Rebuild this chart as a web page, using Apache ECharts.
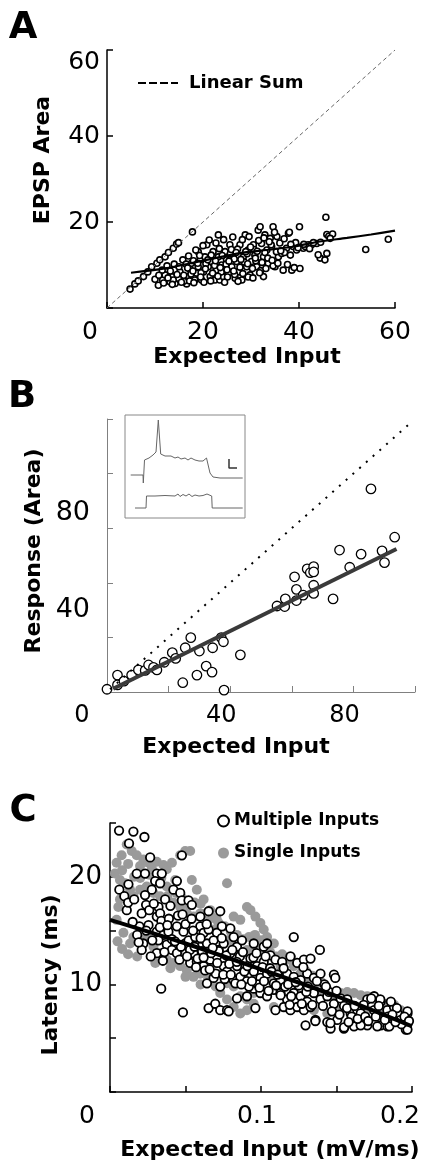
<!DOCTYPE html>
<html><head><meta charset="utf-8">
<script src="https://cdn.jsdelivr.net/npm/echarts@6/dist/echarts.min.js"></script>
<style>html,body{margin:0;padding:0;background:#fff}#c{width:427px;height:1165px}</style>
</head><body><div id="c"></div>
<script>
// ---------- Panel A data ----------
const aXLabels = [0, 20, 40, 60];
const aYLabels = [20, 40, 60];
const aLinearSum = [[0, 0], [60, 60]];
const aFit = [[5, 8.2], [12, 9.2], [20, 11], [28, 12.8], [34, 13.6], [39, 14.3], [44, 15.4], [50, 16.3], [55, 17.1], [60, 18.0]];
const aPoints = [
 [4.8,4.4],[5.8,5.6],[6.5,6.3],[7.6,7.3],[8.5,8.4],[9.3,9.6],[10.4,10.4],[11,11.2],[12.1,11.9],[12.8,12.9],[13.8,13.9],[14.5,14.9],[14.9,15.2],[17.8,17.7],
 [10.0,6.7],[10.7,5.3],[11.6,6.5],[12.1,7.7],[13.1,6.1],[13.5,7.3],[14.2,5.7],[14.9,6.9],[15.2,8.4],[16.3,6.7],[16.6,5.6],[16.9,7.3],[17.3,9.0],[17.6,10.4],
 [18.3,6.5],[18.7,8.1],[19.0,9.6],[19.0,13.1],[19.4,11.2],[19.7,6.5],[20.1,8.4],[20.4,11.9],[20.8,14.7],[21.1,9.6],[21.5,7.3],[21.8,10.8],[22.1,13.1],
 [22.5,6.5],[22.8,8.8],[23.2,17.0],[23.2,11.9],[23.5,6.5],[23.9,10.0],[24.2,7.3],[24.6,13.1],[24.9,11.2],[25.3,8.1],[25.6,14.7],[26.0,9.6],[26.3,12.3],
 [26.7,6.9],[27.0,10.8],[27.4,8.4],[27.7,14.7],[28.1,6.5],[28.4,11.9],[28.8,17.0],[29.1,9.6],[29.4,13.5],[29.8,7.7],[30.1,10.8],[30.5,14.7],[30.8,12.3],
 [31.2,9.6],[31.5,18.1],[31.9,18.9],[32.2,15.0],[32.6,11.9],[32.6,7.3],[32.9,17.0],[33.3,13.5],[33.6,10.4],[34.0,16.2],[34.3,14.3],[34.6,18.9],[35.0,9.6],
 [35.4,16.6],[35.7,11.9],[36.4,12.7],[36.7,8.8],[37.4,13.9],[37.8,17.4],[38.5,8.8],[38.8,14.3],[39.5,13.5],[40.1,18.9],[40.2,9.2],[40.6,14.3],[40.9,13.9],
 [41.3,14.3],[41.9,14.7],[42.6,14.7],[43.7,15.0],[44.4,11.6],[45.4,11.2],[45.6,21.1],[45.8,17.1],[45.8,12.7],[46.2,16.7],[53.9,13.6],[58.6,16.0],[38.0,17.6],[34.6,9.8],
 [11.5,8.8],[12.5,9.8],[13.2,8.6],[14,10.2],[15,9.6],[15.8,11.2],[16.5,10.2],[17,12.1],[17.5,7.9],[18,11],[18.5,13.5],[19.3,12.2],[20,14.5],[20.6,10.3],
 [21.3,15.8],[21.7,12.3],[22.4,9.9],[22.7,15.1],[23.4,13.8],[23.8,8.4],[24.3,15.9],[24.8,10.2],[25.1,7.2],[25.7,12.6],[26.2,16.5],[26.5,11.4],[27.2,13.7],
 [27.7,9.5],[28.2,15.9],[28.6,10.7],[29.2,12.6],[29.6,16.6],[30.3,9.2],[30.6,13.6],[31,11],[31.6,15.7],[32,8.7],[32.9,12.9],[33.5,11.6],[34.2,14.7],
 [35.3,13.1],[36,15.1],[37,12.9],[38.2,12.3],[39.3,15.2],[42.2,13.8],[44.5,15.3],[47,17.2],[19.6,8.2],[16,6.2],[13.8,6.5],[26.6,7.8],[29.4,7.2],
 [10.8,7.6],[11.8,5.8],[12.7,7.0],[13.6,5.5],[14.6,7.8],[15.5,6.0],[16,7.6],[16.8,9.3],[17.2,6.3],[17.9,8.6],[18.1,5.9],[18.9,10.4],[19.5,7.2],[20.2,6.0],
 [20.5,9.1],[21,11.2],[21.6,6.3],[22,8.1],[22.6,11.0],[23.1,7.4],[23.6,9.4],[24,12.2],[24.5,6.0],[25,8.9],[25.4,10.9],[25.9,13.6],[26.4,8.6],[26.9,12.9],
 [27.3,6.2],[27.9,11.3],[28.3,8.0],[28.9,13.1],[29.3,10.3],[29.9,14.2],[30.4,7.0],[30.9,11.6],[31.3,13.2],[31.8,8.2],[32.3,10.6],[32.7,16.3],[33.1,9.2],
 [33.8,15.4],[34.4,11.1],[34.9,17.6],[35.6,10.4],[36.2,13.3],[36.9,16.1],[37.6,10.1],[38.3,14.8],[39,9.4],[39.8,14.0],[41,14.8],[43,15.2],[44,12.4],[46.5,16.2]
];

// ---------- Panel B data ----------
const bXLabels = [0, 40, 80];
const bYLabels = [40, 80];
const bLinearSum = [[1, 1], [98, 98]];
const bFit = [[2, 1.2], [94, 52.4]];
const bPoints = [
 [0,1],[3.4,6.2],[3.4,2.6],[5.5,4.0],[8.0,6.2],[10.2,8.1],[12.4,7.9],[13.5,9.9],[15.1,9.0],[16.2,8.1],[18.6,10.9],[21.2,14.4],[22.3,12.3],[24.6,3.4],
 [25.4,16.2],[27.2,19.9],[29.2,6.2],[30.0,15.0],[32.2,9.5],[34.1,7.3],[34.3,16.2],[37.1,19.9],[37.8,18.4],[38.0,0.7],[43.3,13.6],[55.2,31.5],[57.7,31.3],
 [57.9,34.1],[60.9,42.2],[61.5,37.6],[61.5,33.5],[63.7,35.5],[65.0,45.1],[66.0,43.7],[67.1,45.9],[67.1,44.0],[67.1,39.1],[67.1,36.1],[73.4,34.1],[75.5,52.0],
 [78.8,45.7],[82.5,50.5],[85.7,74.4],[89.3,51.7],[90.1,47.4],[93.4,56.7]
];
// inset traces (time, voltage in arbitrary units)
const insetTop = [[5.7,43],[18,43],[18.3,35],[19.5,58],[24,60],[28,63],[31,66],[33.3,98],[35.7,64],[40,62],[46,62],[50,60],[53,61],[56,59],[60,60],[63,58],[66,60],[70,58],[74,57],[78,57],[81.5,60],[83,58],[85,45],[88,41],[95,40],[117.7,40]];
const insetBottom = [[10,10],[21,10],[21.5,22],[30,22],[40,22.5],[50,22],[53,24],[55,21.5],[58,23.5],[61,22],[64,24],[67,21.5],[70,23],[74,22],[78,22.5],[82,24],[84,22],[86.7,22],[87.2,10],[117.7,10]];
const insetScale = [[104,59],[104,50],[112,50]];

// ---------- Panel C data ----------
const cXLabels = [0, 0.1, 0.2];
const cYLabels = [10, 20];
const cFit = [[0,16.0],[0.05,13.8],[0.1,11.4],[0.15,8.9],[0.2,6.1]];
const cMultiple = [
 [0.006,24.3],[0.0155,24.2],[0.0228,23.7],[0.0126,23.1],[0.0266,21.8],[0.0476,22.0],[0.0177,20.3],[0.0232,20.3],[0.0062,18.8],[0.0095,18.2],[0.0122,19.3],
 [0.0111,16.9],[0.031,20.3],[0.0343,20.3],[0.0299,19.6],[0.0332,19.4],[0.0277,18.8],[0.0232,18.3],[0.0239,17.4],[0.021,16.6],[0.0195,15.4],[0.0221,13.8],
 [0.021,13.2],[0.0255,15.5],[0.0321,17.2],[0.031,16.3],[0.0332,16.6],[0.0365,17.9],[0.042,18.8],[0.0443,19.6],[0.0465,18.5],[0.0476,17.8],[0.052,17.8],
 [0.0542,17.4],[0.031,14.9],[0.0354,14.6],[0.0387,14.9],[0.0443,15.4],[0.0487,14.9],[0.031,12.9],[0.0321,14.1],[0.0376,13.7],[0.041,13.2],[0.0443,12.9],
 [0.0498,13.8],[0.052,14.1],[0.0564,14.4],[0.0598,16.3],[0.0653,16.8],[0.073,16.8],[0.0598,15.4],[0.062,14.8],[0.0653,15.1],[0.0708,14.8],[0.0741,15.4],
 [0.0797,15.2],[0.0819,14.4],[0.0553,12.9],[0.0598,13.5],[0.0642,13.8],[0.0686,14.1],[0.0719,13.2],[0.0753,13.8],[0.0797,12.9],[0.0841,13.5],[0.0874,14.1],
 [0.0952,13.8],[0.1018,13.5],[0.104,13.8],[0.0531,12.0],[0.0575,12.1],[0.062,11.7],[0.0664,12.3],[0.0708,12.6],[0.0753,11.7],[0.0797,12.1],[0.0841,11.7],
 [0.0885,12.3],[0.093,12.4],[0.0974,11.7],[0.1018,12.1],[0.1062,12.7],[0.1096,12.3],[0.114,12.1],[0.1195,12.6],[0.124,12.0],[0.1284,12.3],[0.1328,12.4],
 [0.1217,14.4],[0.139,13.2],[0.0642,10.1],[0.0686,10.6],[0.073,9.8],[0.0775,11.2],[0.0819,10.4],[0.0863,10.7],[0.0907,10.3],[0.0952,11.2],[0.0996,10.6],
 [0.104,11.0],[0.1085,10.1],[0.1129,10.4],[0.1173,11.0],[0.1217,10.7],[0.1262,10.4],[0.1306,11.0],[0.135,10.6],[0.1394,11.0],[0.1483,10.9],[0.0841,8.7],
 [0.0907,8.9],[0.0952,9.6],[0.0996,9.2],[0.104,8.9],[0.1085,9.5],[0.1129,9.2],[0.1173,8.6],[0.1217,9.2],[0.1262,8.9],[0.1306,8.4],[0.135,9.2],[0.1394,8.6],
 [0.1439,8.9],[0.1483,8.2],[0.1527,8.7],[0.1571,8.6],[0.0653,7.8],[0.0697,8.2],[0.073,7.6],[0.0775,7.6],[0.0786,7.5],[0.0963,7.8],[0.1096,7.6],[0.1151,7.9],
 [0.1195,7.6],[0.124,7.9],[0.1284,7.6],[0.1328,7.9],[0.1361,6.7],[0.1295,6.2],[0.1439,6.5],[0.1461,5.9],[0.1505,6.7],[0.1549,5.9],[0.1594,7.3],[0.1638,7.6],
 [0.166,6.4],[0.1704,8.6],[0.1749,8.9],[0.1793,8.4],[0.1837,7.6],[0.1881,7.9],[0.1904,7.3],[0.1926,6.7],[0.1959,5.8],[0.197,7.3],[0.1793,6.2],[0.1837,6.1],
 [0.1704,6.2],[0.1616,6.1],[0.1749,7.6],[0.166,7.3],[0.0483,7.4],[0.0339,9.6],[0.1492,10.6],
 [0.136,6.6],[0.146,6.4],[0.155,6.0],[0.166,6.2],[0.177,6.1],[0.185,6.1],[0.197,5.8],[0.197,7.5],[0.19,7.8],[0.173,8.7],[0.179,8.6],[0.186,8.4],
 [0.015,15.8],[0.018,14.6],[0.026,16.9],[0.028,14.1],[0.034,15.9],[0.036,13.0],[0.039,16.1],[0.041,14.2],[0.045,16.4],[0.047,13.5],[0.05,15.6],[0.053,13.2],
 [0.055,15.0],[0.058,12.4],[0.061,13.1],[0.063,11.3],[0.067,12.9],[0.07,11.0],[0.072,13.1],[0.076,10.5],[0.079,11.9],[0.083,10.1],[0.086,12.6],[0.089,11.2],
 [0.092,9.8],[0.095,12.5],[0.098,10.0],[0.101,11.6],[0.106,11.5],[0.11,9.9],[0.116,9.8],[0.12,8.9],[0.125,9.9],[0.13,9.3],[0.142,10.0],[0.145,9.3],
 [0.155,8.0],[0.16,7.0],[0.168,8.1],[0.184,7.0],[0.193,6.3],
 [0.012,17.6],[0.016,17.9],[0.019,13.9],[0.024,15.0],[0.027,12.6],[0.029,17.5],[0.033,15.3],[0.035,12.2],[0.038,15.5],[0.04,17.3],[0.043,14.0],[0.046,12.3],
 [0.048,16.5],[0.051,12.6],[0.054,16.1],[0.056,13.5],[0.057,11.6],[0.06,14.3],[0.062,12.5],[0.064,15.6],[0.066,11.4],[0.068,13.4],[0.071,12.0],[0.074,14.3],
 [0.075,10.9],[0.077,12.7],[0.08,10.9],[0.081,13.2],[0.084,12.1],[0.087,10.0],[0.088,13.0],[0.091,11.7],[0.094,10.3],[0.097,12.9],[0.099,9.7],[0.102,10.3],
 [0.103,12.6],[0.105,9.4],[0.107,11.2],[0.111,10.9],[0.113,9.0],[0.115,11.5],[0.118,10.0],[0.119,8.1],[0.123,10.2],[0.127,8.2],[0.128,11.6],[0.131,9.8],
 [0.134,8.1],[0.137,10.3],[0.141,8.0],[0.143,9.8],[0.147,7.5],[0.15,9.4],[0.152,7.2],[0.157,7.8],[0.158,6.5],[0.162,8.0],[0.164,6.8],[0.169,7.0],[0.171,6.6],
 [0.176,7.0],[0.178,8.0],[0.182,6.7],[0.187,7.2],[0.189,6.5],[0.195,7.0],[0.198,6.6]
];
const cSingle = [
 [0.0044,21.3],[0.0077,22.0],[0.0111,23.0],[0.0144,22.4],[0.0177,22.0],[0.0199,21.0],[0.0221,21.6],[0.0255,21.3],[0.0277,20.8],[0.031,21.4],[0.0354,21.1],
 [0.0376,20.7],[0.041,21.3],[0.0432,19.7],[0.0465,22.0],[0.0498,22.4],[0.0531,22.4],[0.0542,19.7],[0.0575,18.8],[0.062,17.9],[0.0664,16.9],[0.0708,16.0],
 [0.0775,19.4],[0.0819,16.3],[0.0863,16.0],[0.0907,17.2],[0.093,16.9],[0.0963,16.3],[0.0996,15.7],[0.1018,15.1],[0.104,14.4],[0.1085,13.8],[0.0044,16.0],
 [0.0055,17.2],[0.0066,17.9],[0.0033,20.3],[0.0066,19.7],[0.01,19.4],[0.0133,18.8],[0.0155,18.2],[0.0199,18.8],[0.0243,19.1],[0.0288,18.5],[0.0332,18.2],
 [0.0376,19.1],[0.042,17.6],[0.0465,17.2],[0.0509,16.6],[0.0553,16.3],[0.0598,16.6],[0.0642,15.7],[0.0686,15.1],[0.073,14.4],[0.0775,14.1],[0.0819,13.5],
 [0.0863,12.9],[0.0907,13.2],[0.0952,13.5],[0.0089,14.8],[0.0133,13.8],[0.0155,14.4],[0.0199,14.1],[0.0243,14.4],[0.0288,13.5],[0.0332,12.9],[0.0376,12.3],
 [0.042,12.0],[0.0465,11.7],[0.0509,11.3],[0.0553,10.7],[0.0598,11.0],[0.0642,11.7],[0.0686,12.0],[0.073,11.0],[0.0775,10.1],[0.0819,9.8],[0.0863,8.9],
 [0.0907,8.6],[0.0952,9.2],[0.0996,9.8],[0.104,10.4],[0.1085,11.0],[0.1129,11.7],[0.1173,12.3],[0.1217,11.7],[0.1262,11.0],[0.1306,10.4],[0.135,9.8],
 [0.1394,9.2],[0.1439,9.5],[0.1483,8.9],[0.1527,9.2],[0.1571,9.3],[0.1616,9.2],[0.166,9.0],[0.1704,8.9],[0.1749,8.6],[0.1793,8.4],[0.1837,8.2],[0.1881,8.1],
 [0.1926,7.6],[0.1948,7.3],[0.0819,7.9],[0.0775,8.6],[0.073,9.2],[0.0863,7.3],[0.0907,7.6],[0.0952,8.2],[0.1085,7.9],[0.1173,8.6],[0.1262,7.9],[0.135,7.6],
 [0.1439,7.3],[0.1527,7.6],[0.1616,7.3],[0.1704,7.6],[0.1793,7.3],[0.1881,7.0],
 [0.008,20.6],[0.012,21.2],[0.016,20.0],[0.02,19.9],[0.026,20.2],[0.03,19.8],[0.034,19.9],[0.038,18.2],[0.044,18.5],[0.048,18.0],[0.052,17.4],[0.056,17.6],
 [0.06,17.5],[0.064,16.6],[0.068,16.2],[0.072,15.7],[0.076,15.4],[0.08,14.9],[0.084,14.6],[0.088,14.2],[0.092,14.4],[0.096,14.6],[0.1,14.1],[0.106,13.0],
 [0.11,12.6],[0.114,12.8],[0.12,12.5],[0.125,12.0],[0.13,11.2],[0.134,10.8],[0.14,10.2],[0.005,14.0],[0.008,13.3],[0.012,12.8],[0.018,12.6],[0.03,12.0],
 [0.04,11.5],[0.05,10.7],[0.06,10.0],[0.07,9.8],[0.045,12.9],[0.055,12.5],[0.065,10.5]
];

// ---------- chart ----------
const F = 'DejaVu Sans';
const near = (v, list) => list.some(t => Math.abs(t - v) < 1e-9);
const chart = echarts.init(document.getElementById('c'), null, {renderer: 'canvas'});

const tickStyle = (color, w) => ({show: true, inside: true, length: 6, lineStyle: {color: color, width: w}});
const lineStyle = (color, w) => ({show: true, onZero: false, lineStyle: {color: color, width: w}});
const T = (text, x, y, size, rot) => ({type: 'text', x: x, y: y, rotation: rot ? Math.PI / 2 : 0,
  style: {text: text, fontFamily: F, fontWeight: 'bold', fontSize: size, fill: '#000', align: 'center', verticalAlign: 'middle', textAlign: 'center', textVerticalAlign: 'middle'}});

const option = {
  animation: false,
  backgroundColor: '#fff',
  textStyle: {fontFamily: F, color: '#000'},
  grid: [
    {left: 107, right: 32, top: 50, bottom: 857},
    {left: 107, right: 12, top: 419, bottom: 473},
    {left: 110, right: 15, top: 823, bottom: 73},
    {left: 125, top: 415, width: 120, height: 103, show: true, borderColor: '#888', borderWidth: 1, backgroundColor: '#fff', z: 1}
  ],
  xAxis: [
    {type: 'value', gridIndex: 0, min: 0, max: 60, interval: 20, axisLine: lineStyle('#000', 1.5), axisTick: tickStyle('#000', 1.5), splitLine: {show: false},
     axisLabel: {fontSize: 25, fontFamily: F, color: '#000', margin: 12, showMinLabel: true, showMaxLabel: true,
       formatter: v => v === 0 ? '{z|0}' : (near(v, aXLabels) ? String(v) : ''),
       rich: {z: {fontSize: 25, fontFamily: F, color: '#000', padding: [0, 34, 0, 0]}}}},
    {type: 'value', gridIndex: 1, min: 0, max: 100, interval: 20, axisLine: lineStyle('#808080', 1), axisTick: tickStyle('#808080', 1), splitLine: {show: false},
     axisLabel: {fontSize: 24, fontFamily: F, color: '#000', margin: 12, showMinLabel: true,
       formatter: v => v === 0 ? '{z|0}' : (near(v, bXLabels) ? '{n|' + v + '}' : ''),
       rich: {z: {fontSize: 24, fontFamily: F, color: '#000', padding: [0, 50, 0, 0]}, n: {fontSize: 24, fontFamily: F, color: '#000', padding: [0, 18, 0, 0]}}}},
    {type: 'value', gridIndex: 2, min: 0, max: 0.2, interval: 0.05, axisLine: lineStyle('#000', 1.5), axisTick: tickStyle('#000', 1.5), splitLine: {show: false},
     axisLabel: {fontSize: 25, fontFamily: F, color: '#000', margin: 12, showMinLabel: true, showMaxLabel: true,
       formatter: v => v === 0 ? '{z|0}' : (Math.abs(v - 0.1) < 1e-9 ? '{a|0.1}' : (Math.abs(v - 0.2) < 1e-9 ? '{b|0.2}' : '')),
       rich: {z: {fontSize: 25, fontFamily: F, color: '#000', padding: [0, 46, 0, 0]},
              a: {fontSize: 25, fontFamily: F, color: '#000', padding: [0, 8, 0, 0]},
              b: {fontSize: 25, fontFamily: F, color: '#000', padding: [0, 24, 0, 0]}}}},
    {type: 'value', gridIndex: 3, min: 0, max: 120, show: false}
  ],
  yAxis: [
    {type: 'value', gridIndex: 0, min: 0, max: 60, interval: 20, axisLine: lineStyle('#000', 1.5), axisTick: tickStyle('#000', 1.5), splitLine: {show: false},
     axisLabel: {fontSize: 25, fontFamily: F, color: '#000', margin: 7, verticalAlignMaxLabel: 'top',
       formatter: v => near(v, aYLabels) ? String(v) : ''}},
    {type: 'value', gridIndex: 1, min: 0, max: 100, interval: 20, axisLine: lineStyle('#808080', 1), axisTick: tickStyle('#808080', 1), splitLine: {show: false},
     axisLabel: {show: false}},
    {type: 'value', gridIndex: 1, position: 'right', offset: -308, min: 6.2, max: 118.8, axisLine: {show: false}, axisTick: {show: false}, splitLine: {show: false},
     axisLabel: {inside: true, margin: 17, fontSize: 27, fontFamily: F, color: '#000', customValues: bYLabels,
       formatter: v => near(v, bYLabels) ? String(v) : ''}},
    {type: 'value', gridIndex: 2, min: 0, max: 25, interval: 5, axisLine: lineStyle('#000', 1.5), axisTick: tickStyle('#000', 1.5), splitLine: {show: false},
     axisLabel: {fontSize: 26, fontFamily: F, color: '#000', margin: 8,
       formatter: v => near(v, cYLabels) ? String(v) : ''}},
    {type: 'value', gridIndex: 3, min: 0, max: 103, show: false}
  ],
  legend: [
    {left: 132, top: 69, itemWidth: 40, itemHeight: 14, selectedMode: false,
     textStyle: {fontFamily: F, fontWeight: 'bold', fontSize: 18, color: '#000', padding: [0, 0, 0, 6]},
     data: [{name: 'Linear Sum', itemStyle: {opacity: 0}, lineStyle: {color: '#000', width: 2, type: [8, 3], opacity: 1}}]},
    {left: 212, top: 806, orient: 'vertical', itemWidth: 11, itemHeight: 11, itemGap: 12, selectedMode: false,
     textStyle: {fontFamily: F, fontWeight: 'bold', fontSize: 17, color: '#000', lineHeight: 20},
     data: ['Multiple Inputs', 'Single Inputs']}
  ],
  series: [
    {name: 'Linear Sum', type: 'line', xAxisIndex: 0, yAxisIndex: 0, data: aLinearSum, symbol: 'none', silent: true,
     itemStyle: {color: '#000'}, lineStyle: {color: '#666', width: 1, type: [4, 3]}},
    {name: 'EPSP', type: 'scatter', xAxisIndex: 0, yAxisIndex: 0, data: aPoints, symbol: 'circle', symbolSize: 6, clip: false, silent: true,
     itemStyle: {color: '#fff', borderColor: '#000', borderWidth: 1.6, opacity: 1}},
    {name: 'A fit', type: 'line', xAxisIndex: 0, yAxisIndex: 0, data: aFit, symbol: 'none', smooth: 0.3, silent: true,
     lineStyle: {color: '#000', width: 2.2}},

    {name: 'B linear', type: 'line', xAxisIndex: 1, yAxisIndex: 1, data: bLinearSum, symbol: 'none', silent: true,
     lineStyle: {color: '#000', width: 2, type: [2, 7]}},
    {name: 'B fit', type: 'line', xAxisIndex: 1, yAxisIndex: 1, data: bFit, symbol: 'none', silent: true,
     lineStyle: {color: '#3a3a3a', width: 4}},
    {name: 'Response', type: 'scatter', xAxisIndex: 1, yAxisIndex: 1, data: bPoints, symbol: 'circle', symbolSize: 9.5, clip: false, silent: true,
     itemStyle: {color: '#fff', borderColor: '#000', borderWidth: 1.3, opacity: 1}},

    {name: 'inset top', type: 'line', xAxisIndex: 3, yAxisIndex: 4, data: insetTop, symbol: 'none', silent: true, z: 3,
     lineStyle: {color: '#666', width: 1}},
    {name: 'inset bottom', type: 'line', xAxisIndex: 3, yAxisIndex: 4, data: insetBottom, symbol: 'none', silent: true, z: 3,
     lineStyle: {color: '#666', width: 1}},
    {name: 'inset scale', type: 'line', xAxisIndex: 3, yAxisIndex: 4, data: insetScale, symbol: 'none', silent: true, z: 3,
     lineStyle: {color: '#333', width: 1.5}},

    {name: 'Single Inputs', type: 'scatter', xAxisIndex: 2, yAxisIndex: 3, data: cSingle, symbol: 'circle', symbolSize: 10, clip: false, silent: true,
     itemStyle: {color: '#9a9a9a', opacity: 1}},
    {name: 'Multiple Inputs', type: 'scatter', xAxisIndex: 2, yAxisIndex: 3, data: cMultiple, symbol: 'circle', symbolSize: 8.5, clip: false, silent: true,
     itemStyle: {color: '#fff', borderColor: '#000', borderWidth: 1.8, opacity: 1}},
    {name: 'C fit', type: 'line', xAxisIndex: 2, yAxisIndex: 3, data: cFit, symbol: 'none', smooth: 0.3, silent: true,
     lineStyle: {color: '#000', width: 4}}
  ],
  graphic: [
    T('A', 23, 28, 37), T('B', 22, 397, 37), T('C', 23, 811, 37),
    T('EPSP Area', 43, 160, 22, true), T('Expected Input', 247, 357, 22),
    T('Response (Area)', 34, 551, 22, true), T('Expected Input', 236, 747, 22),
    T('Latency (ms)', 51, 975, 22, true), T('Expected Input (mV/ms)', 270, 1150, 22)
  ]
};
chart.setOption(option);
</script>
</body></html>
